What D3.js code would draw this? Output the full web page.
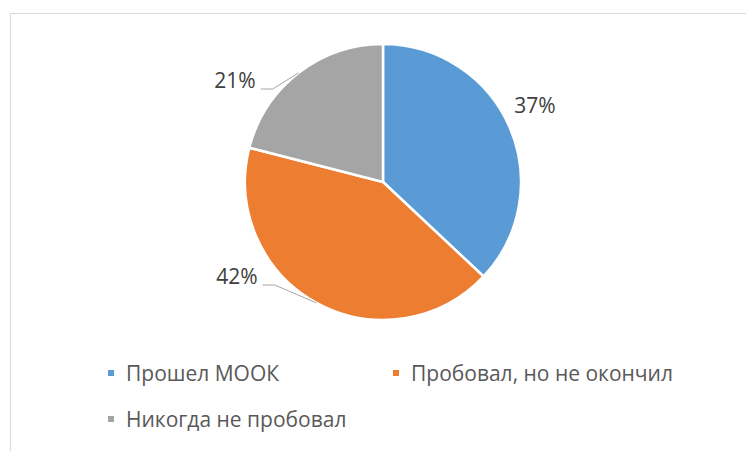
<!DOCTYPE html>
<html>
<head>
<meta charset="utf-8">
<script src="https://cdn.jsdelivr.net/npm/d3@7"></script>
<style>
  html, body { margin: 0; padding: 0; background: #fff; }
  svg { display: block; }
  text { font-family: "Open Sans", "Noto Sans", sans-serif; }
</style>
</head>
<body>
<svg id="chart" width="746" height="451"></svg>
<script>
// Survey answers about MOOC experience
const categories = ["Прошел МООК", "Пробовал, но не окончил", "Никогда не пробовал"];
const shares = [37, 42, 21];
const sliceColors = ["#5B9BD5", "#ED7D31", "#A5A5A5"];
const valueLabels = ["37%", "42%", "21%"];

const W = 746, H = 451;
const cx = 383, cy = 182, R = 138;
const fontSize = 21;

const svg = d3.select("#chart");

// chart area frame (continues past the right and bottom edges)
svg.append("rect")
  .attr("x", 10.5).attr("y", 13.5)
  .attr("width", 800).attr("height", 500)
  .attr("fill", "#fff")
  .attr("stroke", "#D9D9D9").attr("stroke-width", 1);

const pie = d3.pie().sort(null).value(d => d.value);
const data = pie(categories.map((c, i) => ({ name: c, value: shares[i], label: valueLabels[i], color: sliceColors[i] })));
const arc = d3.arc().innerRadius(0).outerRadius(R);

const g = svg.append("g").attr("transform", `translate(${cx},${cy})`);

g.selectAll("path.slice")
  .data(data)
  .join("path")
  .attr("class", "slice")
  .attr("d", arc)
  .attr("fill", d => d.data.color)
  .attr("stroke", "#fff")
  .attr("stroke-width", 2.5)
  .attr("stroke-linejoin", "round");

// label placement around the pie: text centre offsets and whether a leader is drawn
const labelLayout = [
  { dx: 152, dy: -69, leader: false },
  { dx: -146, dy: 102, leader: true },
  { dx: -148, dy: -94, leader: true }
];

const mid = d => (d.startAngle + d.endAngle) / 2;

data.forEach((d, i) => {
  const L = labelLayout[i];
  const t = g.append("text")
    .attr("x", L.dx).attr("y", L.dy)
    .attr("text-anchor", "middle")
    .attr("font-size", fontSize)
    .attr("fill", "#404040")
    .text(d.data.label);
  if (L.leader) {
    const bb = t.node().getBBox();
    const a = mid(d);
    const ex = R * Math.sin(a), ey = -R * Math.cos(a);
    const x0 = bb.x + bb.width + 5, x1 = bb.x + bb.width + 17, y0 = L.dy + 1;
    g.append("path")
      .attr("d", `M${x0},${y0}L${x1},${y0}L${ex},${ey}`)
      .attr("fill", "none")
      .attr("stroke", "#A6A6A6")
      .attr("stroke-width", 1);
  }
});

// legend: two entries in the first row, one in the second
const legendPos = [
  { x: 108, y: 381 },
  { x: 393, y: 381 },
  { x: 108, y: 427 }
];
const legend = svg.append("g");
categories.forEach((c, i) => {
  const p = legendPos[i];
  legend.append("rect")
    .attr("x", p.x).attr("y", p.y - 11)
    .attr("width", 6).attr("height", 6)
    .attr("fill", sliceColors[i]);
  legend.append("text")
    .attr("x", p.x + 18).attr("y", p.y)
    .attr("font-size", fontSize)
    .attr("fill", "#595959")
    .text(c);
});
</script>
</body>
</html>
